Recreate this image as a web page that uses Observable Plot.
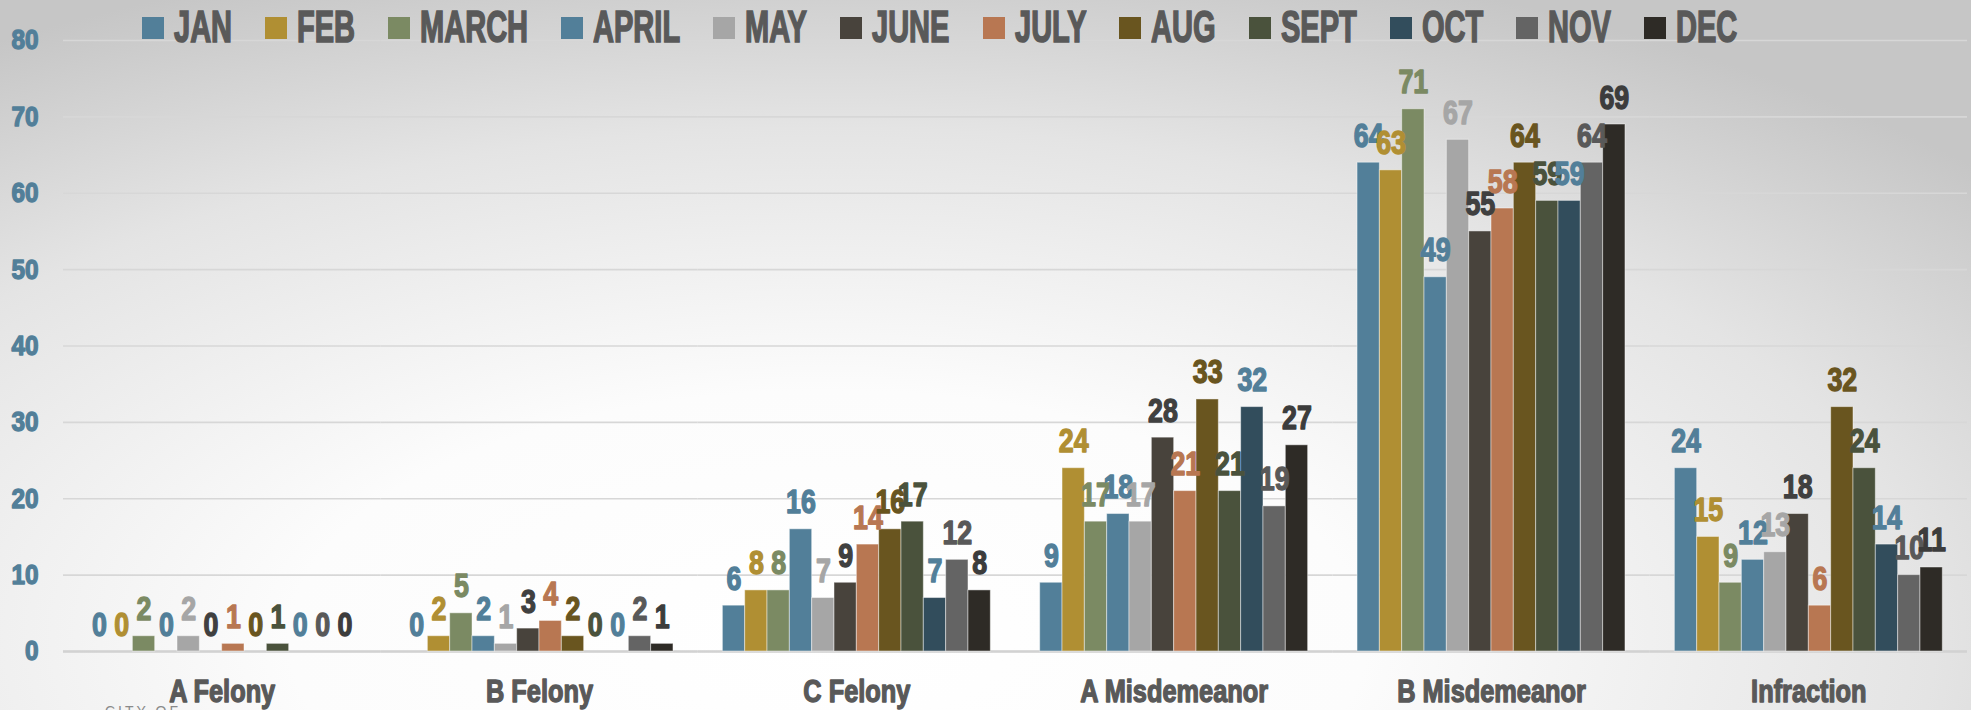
<!DOCTYPE html>
<html>
<head>
<meta charset="utf-8">
<script src="https://cdn.jsdelivr.net/npm/d3@7"></script>
<script src="https://cdn.jsdelivr.net/npm/@observablehq/plot@0.6"></script>
<style>
  html, body { margin: 0; padding: 0; }
  body {
    width: 1971px; height: 710px; overflow: hidden; position: relative;
    font-family: "Liberation Sans", Arial, sans-serif;
    background: radial-gradient(ellipse 78% 100% at 42% 90%, #ffffff 0%, #fcfcfc 35%, #e4e4e4 72%, #c6c6c6 100%);
  }
  #legend {
    position: relative; z-index: 2; height: 26px; box-sizing: border-box;
    padding-left: 142px; padding-top: 5px; display: flex; align-items: flex-start;
    overflow: visible; white-space: nowrap;
  }
  .item { display: flex; align-items: flex-start; }
  .sw { width: 22px; height: 22px; margin-top: 12px; flex: none; }
  .lt { display: inline-block; margin-left: 10px; font-size: 44px; line-height: 1; font-weight: 700;
        color: #595959; -webkit-text-stroke: 1.6px #595959;
        transform: scaleX(0.66); transform-origin: left center; }
  #chart svg { display: block; background: transparent; overflow: visible; }
  #cityof { position: absolute; left: 105px; top: 704px; font-size: 14px; line-height: 1;
            letter-spacing: 3px; color: #8a8a8a; }
</style>
</head>
<body>
<div id="legend"></div>
<div id="chart"></div>
<div id="cityof">CITY OF</div>
<script>
const months = ["JAN","FEB","MARCH","APRIL","MAY","JUNE","JULY","AUG","SEPT","OCT","NOV","DEC"];
const categories = ["A Felony","B Felony","C Felony","A Misdemeanor","B Misdemeanor","Infraction"];
const aFelony      = [0,0,2,0,2,0,1,0,1,0,0,0];
const bFelony      = [0,2,5,2,1,3,4,2,0,0,2,1];
const cFelony      = [6,8,8,16,7,9,14,16,17,7,12,8];
const aMisdemeanor = [9,24,17,18,17,28,21,33,21,32,19,27];
const bMisdemeanor = [64,63,71,49,67,55,58,64,59,59,64,69];
const infraction   = [24,15,9,12,13,18,6,32,24,14,10,11];
const barColors   = ["#527f99","#b08f33","#7b8a63","#527f99","#a6a6a6","#48433c","#b87752","#69551f","#4a523c","#324d5c","#646464","#2e2b26"];
const labelColors = ["#527f99","#b08f33","#7b8a63","#527f99","#a6a6a6","#404040","#b87752","#69551f","#4a523c","#527f99","#595959","#3c3c3c"];
const yTicks = [0,10,20,30,40,50,60,70,80];

const series = [aFelony, bFelony, cFelony, aMisdemeanor, bMisdemeanor, infraction];
const rows = categories.flatMap((c, ci) => months.map((m, mi) => ({category: c, month: m, mi, value: series[ci][mi]})));

// Legend
const legend = document.getElementById("legend");
months.forEach((m, i) => {
  const it = document.createElement("div");
  it.className = "item";
  if (i > 0) it.style.marginLeft = "33px";
  const sw = document.createElement("div");
  sw.className = "sw"; sw.style.background = barColors[i];
  const t = document.createElement("span");
  t.className = "lt"; t.textContent = m;
  it.appendChild(sw); it.appendChild(t);
  legend.appendChild(it);
});
legend.querySelectorAll(".lt").forEach(t => {
  const w = t.offsetWidth;
  t.style.marginRight = (-(1 - 0.66) * w) + "px";
});

const chart = Plot.plot({
  width: 1971,
  height: 684,
  marginLeft: 63, marginRight: 4, marginTop: 14, marginBottom: 59,
  style: {fontFamily: "'Liberation Sans', Arial, sans-serif", background: "transparent", overflow: "visible"},
  fx: {domain: categories, paddingInner: 0, paddingOuter: 0, round: false, label: null},
  x: {domain: months, paddingInner: 0, paddingOuter: 1.106, round: false, axis: null},
  y: {domain: [0, 80], label: null},
  color: {type: "identity"},
  marks: [
    Plot.gridY(yTicks, {stroke: "#d7d7d7", strokeOpacity: 1, strokeWidth: 1.6}),
    Plot.ruleY([0], {stroke: "#d2d2d2", strokeWidth: 2.4}),
    Plot.barY(rows, {fx: "category", x: "month", y: "value", fill: d => barColors[d.mi],
      stroke: "#ffffff", strokeOpacity: 0.45, strokeWidth: 1, inset: 0}),
    Plot.text(rows, {fx: "category", x: "month", y: "value", text: d => String(d.value),
      fill: d => labelColors[d.mi], dy: -16, lineAnchor: "bottom", fontSize: 33.5, fontWeight: 700}),
    Plot.axisY(yTicks, {anchor: "left", tickSize: 0, tickPadding: 25, fontSize: 28, fontWeight: 700,
      fill: "#527f99", label: null}),
    Plot.axisFx({anchor: "bottom", tickSize: 0, tickPadding: 28, fontSize: 31.7, fontWeight: 700,
      fill: "#595959", label: null})
  ]
});
document.getElementById("chart").appendChild(chart);

// Condense and embolden glyphs (Impact-like look)
const scaleFor = (el) => {
  const g = el.closest("g[aria-label]");
  const a = g ? g.getAttribute("aria-label") : "";
  if (a.includes("y-axis")) return 0.87;
  if (a.includes("fx-axis")) return 0.8;
  return 0.8;
};
chart.querySelectorAll("text").forEach(t => {
  const s = scaleFor(t);
  const x = +(t.getAttribute("x") || 0);
  if (t.hasAttribute("x")) t.removeAttribute("x");
  const tr = t.getAttribute("transform") || "";
  t.setAttribute("transform", `${tr} translate(${x},0) scale(${s},1)`);
  const fill = getComputedStyle(t).fill;
  t.style.stroke = fill;
  t.style.strokeWidth = "1.4px";
  t.style.strokeLinejoin = "round";
});
</script>
</body>
</html>
